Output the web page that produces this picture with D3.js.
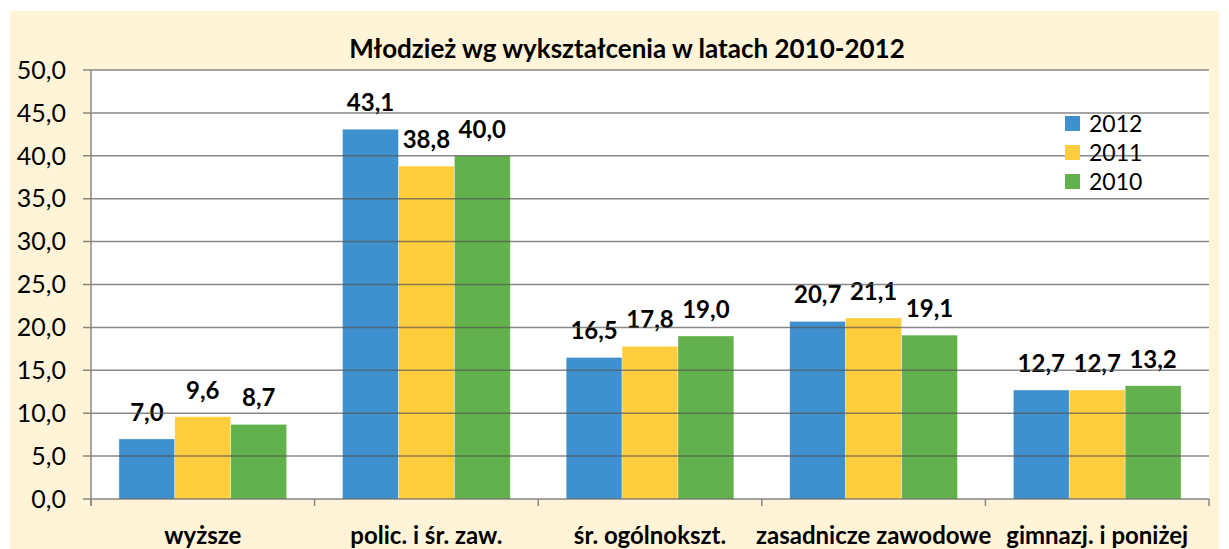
<!DOCTYPE html>
<html>
<head>
<meta charset="utf-8">
<script src="https://cdn.jsdelivr.net/npm/d3@7"></script>
<style>
  body { margin: 0; background: #fff; }
  text { font-family: Lato, "Open Sans", sans-serif; fill: #000; }
</style>
</head>
<body>
<svg width="1229" height="549"></svg>
<script>
// data
var categories = ["wyższe", "polic. i śr. zaw.", "śr. ogólnokszt.", "zasadnicze zawodowe", "gimnazj. i poniżej"];
var years = ["2012", "2011", "2010"];
var v2012 = [7.0, 43.1, 16.5, 20.7, 12.7];
var v2011 = [9.6, 38.8, 17.8, 21.1, 12.7];
var v2010 = [8.7, 40.0, 19.0, 19.1, 13.2];
var yTicks = [0, 5, 10, 15, 20, 25, 30, 35, 40, 45, 50];
var colors = ["#3F90CF", "#FDCD3E", "#63B14C"];

var series = [v2012, v2011, v2010];
var margin = {top: 70, left: 91, right: 1209, bottom: 499};

var svg = d3.select("svg");

// cream background
svg.append("rect")
  .attr("x", 10).attr("y", 11)
  .attr("width", 1209).attr("height", 538)
  .attr("fill", "#FFF4D7");

svg.append("rect")
  .attr("x", margin.left).attr("y", margin.top)
  .attr("width", margin.right - margin.left).attr("height", margin.bottom - margin.top)
  .attr("fill", "#fff");

var x0 = d3.scaleBand()
  .domain(categories)
  .range([margin.left, margin.right])
  .paddingInner(0.25).paddingOuter(0.125);

var x1 = d3.scaleBand()
  .domain(years)
  .range([0, x0.bandwidth()]);

var y = d3.scaleLinear()
  .domain([0, 50])
  .range([margin.bottom, margin.top]);

// bars
var groups = svg.append("g").selectAll("g")
  .data(categories)
  .enter().append("g")
  .attr("transform", function(d) { return "translate(" + x0(d) + ",0)"; });

groups.selectAll("rect")
  .data(function(d, i) { return years.map(function(yr, j) { return {yr: yr, v: series[j][i], j: j}; }); })
  .enter().append("rect")
  .attr("x", function(d) { return x1(d.yr); })
  .attr("y", function(d) { return y(d.v); })
  .attr("width", x1.bandwidth())
  .attr("height", function(d) { return y(0) - y(d.v); })
  .attr("fill", function(d) { return colors[d.j]; })
  .attr("stroke", "#fff")
  .attr("stroke-opacity", 0.6)
  .attr("stroke-width", 0.6);

// gridlines on top of bars
svg.append("g")
  .selectAll("line")
  .data(yTicks)
  .enter().append("line")
  .attr("x1", margin.left - 8).attr("x2", margin.right)
  .attr("y1", function(d) { return y(d); })
  .attr("y2", function(d) { return y(d); })
  .attr("stroke", "#555")
  .attr("stroke-opacity", 0.7)
  .attr("stroke-width", 1.5);

// y axis line
svg.append("line")
  .attr("x1", margin.left).attr("x2", margin.left)
  .attr("y1", margin.top).attr("y2", margin.bottom + 7)
  .attr("stroke", "#888").attr("stroke-width", 1.5);

// category ticks
var bounds = categories.map(function(c) { return x0(c) - x0.step() * x0.paddingInner() / 2; });
bounds.push(margin.right);
svg.append("g").selectAll("line")
  .data(bounds)
  .enter().append("line")
  .attr("x1", function(d) { return d; }).attr("x2", function(d) { return d; })
  .attr("y1", margin.bottom).attr("y2", margin.bottom + 7)
  .attr("stroke", "#888").attr("stroke-width", 1.5);

// y tick labels
svg.append("g").selectAll("text")
  .data(yTicks)
  .enter().append("text")
  .attr("x", 66)
  .attr("y", function(d) { return y(d); })
  .attr("dy", "0.35em")
  .attr("text-anchor", "end")
  .style("font-size", "25px")
  .text(function(d) { return d.toFixed(1).replace(".", ","); });

// value labels
groups.selectAll("text")
  .data(function(d, i) { return years.map(function(yr, j) { return {yr: yr, v: series[j][i], j: j}; }); })
  .enter().append("text")
  .attr("x", function(d) { return x1(d.yr) + x1.bandwidth() / 2; })
  .attr("y", function(d) { return y(d.v) - 18; })
  .attr("text-anchor", "middle")
  .style("font-size", "24px")
  .style("font-weight", "bold")
  .text(function(d) { return d.v.toFixed(1).replace(".", ","); });

// category labels
svg.append("g").selectAll("text")
  .data(categories)
  .enter().append("text")
  .attr("x", function(d) { return x0(d) + x0.bandwidth() / 2; })
  .attr("y", 544)
  .attr("text-anchor", "middle")
  .style("font-size", "24px")
  .style("font-weight", "bold")
  .text(function(d) { return d; });

// title
svg.append("text")
  .attr("x", 627).attr("y", 58)
  .attr("text-anchor", "middle")
  .style("font-size", "26px")
  .style("font-weight", "bold")
  .text("Młodzież wg wykształcenia w latach 2010-2012");

// legend
var legend = svg.append("g").selectAll("g")
  .data(years)
  .enter().append("g")
  .attr("transform", function(d, i) { return "translate(1065," + (116 + i * 29) + ")"; });
legend.append("rect")
  .attr("width", 15).attr("height", 15)
  .attr("fill", function(d, i) { return colors[i]; });
legend.append("text")
  .attr("x", 24).attr("y", 8)
  .attr("dy", "0.35em")
  .style("font-size", "23px")
  .text(function(d) { return d; });
</script>
</body>
</html>
